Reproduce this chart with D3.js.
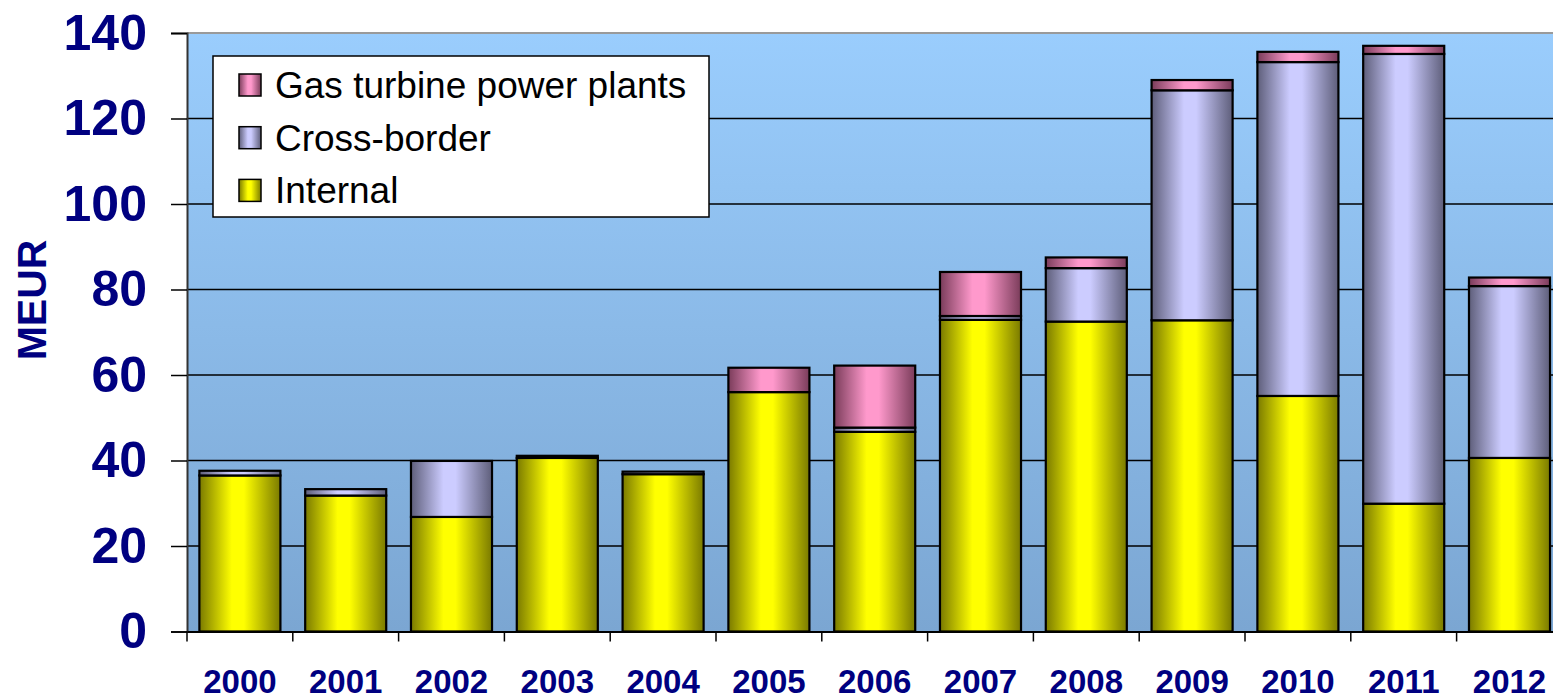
<!DOCTYPE html>
<html lang="en">
<head>
    <meta charset="UTF-8">
    <title>Investments</title>
    <script src="https://d3js.org/d3.v7.min.js"></script>
    <style>
        body { margin: 0; background: #ffffff; }
    </style>
</head>
<body>
<div id="my_dataviz"></div>
<script>

    // data (MEUR)
    var years = ["2000", "2001", "2002", "2003", "2004", "2005", "2006", "2007", "2008", "2009", "2010", "2011", "2012"];
    var internal    = [36.5, 31.8, 26.8, 40.6, 36.8, 56.0, 46.7, 72.9, 72.5, 72.8, 55.1, 29.9, 40.6];
    var crossBorder = [1.1, 1.5, 13.1, 0.5, 0.6, 0.0, 1.0, 0.9, 12.5, 53.8, 78.1, 105.2, 40.2];
    var gasTurbine  = [0.0, 0.0, 0.0, 0.0, 0.0, 5.7, 14.5, 10.3, 2.5, 2.4, 2.4, 1.9, 2.0];
    var yTicks = [0, 20, 40, 60, 80, 100, 120, 140];

    var seriesKeys = ["internal", "cross", "gas"];
    var seriesNames = {gas: "Gas turbine power plants", cross: "Cross-border", internal: "Internal"};
    var seriesColors = {
        internal: ["#7a7a00", "#ffff00"],
        cross: ["#5e5e7a", "#ccccff"],
        gas: ["#7a3c5a", "#ff99cc"]
    };

    var table = years.map(function(y, i) {
        return {year: y, internal: internal[i], cross: crossBorder[i], gas: gasTurbine[i]};
    });

    // note: "top" is reserved on window, so use other names
    var W = 1553, H = 699;
    var plotLeft = 187, plotTop = 33, plotBottom = 631.5;
    var step = 105.8;

    var svg = d3.select("#my_dataviz")
        .append("svg")
        .attr("width", W)
        .attr("height", H);

    var defs = svg.append("defs");

    // plot background
    var bg = defs.append("linearGradient")
        .attr("id", "plotbg").attr("x1", 0).attr("y1", 0).attr("x2", 0).attr("y2", 1);
    bg.append("stop").attr("offset", "0%").attr("stop-color", "#9acdfd");
    bg.append("stop").attr("offset", "100%").attr("stop-color", "#7ba6d2");

    // bar gradients (dark edges, bright middle)
    seriesKeys.forEach(function(k) {
        var g = defs.append("linearGradient")
            .attr("id", "grad-" + k).attr("x1", 0).attr("y1", 0).attr("x2", 1).attr("y2", 0);
        g.append("stop").attr("offset", "0%").attr("stop-color", seriesColors[k][0]);
        g.append("stop").attr("offset", "40%").attr("stop-color", seriesColors[k][1]);
        g.append("stop").attr("offset", "55%").attr("stop-color", seriesColors[k][1]);
        g.append("stop").attr("offset", "100%").attr("stop-color", seriesColors[k][0]);
    });

    var x = d3.scaleBand()
        .domain(years)
        .range([plotLeft, plotLeft + step * years.length])
        .paddingInner(0.234)
        .paddingOuter(0.117);

    var y = d3.scaleLinear()
        .domain([0, 140])
        .range([plotBottom, plotTop]);

    // plot area
    svg.append("rect")
        .attr("x", plotLeft)
        .attr("y", y(140))
        .attr("width", W - plotLeft)
        .attr("height", y(0) - y(140))
        .attr("fill", "url(#plotbg)");

    svg.append("line")
        .attr("x1", plotLeft).attr("x2", W)
        .attr("y1", y(140)).attr("y2", y(140))
        .attr("stroke", "#9a9a9a").attr("stroke-width", 2);

    // gridlines
    svg.append("g")
        .selectAll("line")
        .data(yTicks.filter(function(t) { return t > 0 && t < 140; }))
        .enter()
        .append("line")
        .attr("x1", plotLeft).attr("x2", W)
        .attr("y1", function(d) { return y(d); })
        .attr("y2", function(d) { return y(d); })
        .attr("stroke", "#000").attr("stroke-width", 1.5);

    // stacked bars
    var stacked = d3.stack().keys(seriesKeys)(table);

    svg.append("g")
        .selectAll("g")
        .data(stacked)
        .enter()
        .append("g")
        .attr("fill", function(d) { return "url(#grad-" + d.key + ")"; })
        .selectAll("rect")
        .data(function(d) { return d.filter(function(p) { return p[1] - p[0] > 0; }); })
        .enter()
        .append("rect")
        .attr("x", function(d) { return x(d.data.year); })
        .attr("y", function(d) { return y(d[1]); })
        .attr("width", x.bandwidth())
        .attr("height", function(d) { return y(d[0]) - y(d[1]); })
        .attr("stroke", "#000")
        .attr("stroke-width", 2.2);

    // Y axis
    var yAxis = svg.append("g")
        .attr("transform", "translate(" + plotLeft + ",0)")
        .call(d3.axisLeft(y).tickValues(yTicks).tickSize(16).tickPadding(24));
    yAxis.select(".domain").attr("stroke", "#333").attr("stroke-width", 2);
    yAxis.selectAll(".tick line").attr("stroke", "#000").attr("stroke-width", 1.5);
    yAxis.selectAll("text")
        .attr("fill", "#000080")
        .attr("font-family", "Liberation Sans, Arial, sans-serif")
        .attr("font-weight", "bold")
        .attr("font-size", "50px");

    // X axis
    var xAxis = svg.append("g")
        .attr("transform", "translate(0," + plotBottom + ")")
        .call(d3.axisBottom(x).tickSize(0));
    xAxis.select(".domain").attr("stroke", "#000").attr("stroke-width", 2);
    xAxis.selectAll("text")
        .attr("y", 61)
        .attr("dy", 0)
        .attr("fill", "#000080")
        .attr("font-family", "Liberation Sans, Arial, sans-serif")
        .attr("font-weight", "bold")
        .attr("font-size", "33px");

    // category separator ticks
    svg.append("g")
        .selectAll("line")
        .data(years)
        .enter()
        .append("line")
        .attr("x1", function(d) { return x(d) - x.step() * x.paddingInner() / 2; })
        .attr("x2", function(d) { return x(d) - x.step() * x.paddingInner() / 2; })
        .attr("y1", plotBottom)
        .attr("y2", plotBottom + 10)
        .attr("stroke", "#000").attr("stroke-width", 1.5);

    // Y title
    svg.append("text")
        .attr("transform", "translate(46,300) rotate(-90)")
        .attr("text-anchor", "middle")
        .attr("fill", "#000080")
        .attr("font-family", "Liberation Sans, Arial, sans-serif")
        .attr("font-weight", "bold")
        .attr("font-size", "41px")
        .text("MEUR");

    // legend
    var legend = svg.append("g").attr("transform", "translate(213,56)");
    legend.append("rect")
        .attr("width", 496).attr("height", 161)
        .attr("fill", "#fff").attr("stroke", "#000").attr("stroke-width", 1.5);

    var legendKeys = ["gas", "cross", "internal"];
    var item = legend.selectAll(".item")
        .data(legendKeys)
        .enter()
        .append("g")
        .attr("class", "item")
        .attr("transform", function(d, i) { return "translate(26," + (18 + i * 52.7) + ")"; });
    item.append("rect")
        .attr("width", 22).attr("height", 22)
        .attr("fill", function(d) { return "url(#grad-" + d + ")"; })
        .attr("stroke", "#000").attr("stroke-width", 1.5);
    item.append("text")
        .attr("x", 36)
        .attr("y", 24)
        .attr("font-family", "Liberation Sans, Arial, sans-serif")
        .attr("font-size", "37px")
        .attr("fill", "#000")
        .text(function(d) { return seriesNames[d]; });

</script>
</body>
</html>
